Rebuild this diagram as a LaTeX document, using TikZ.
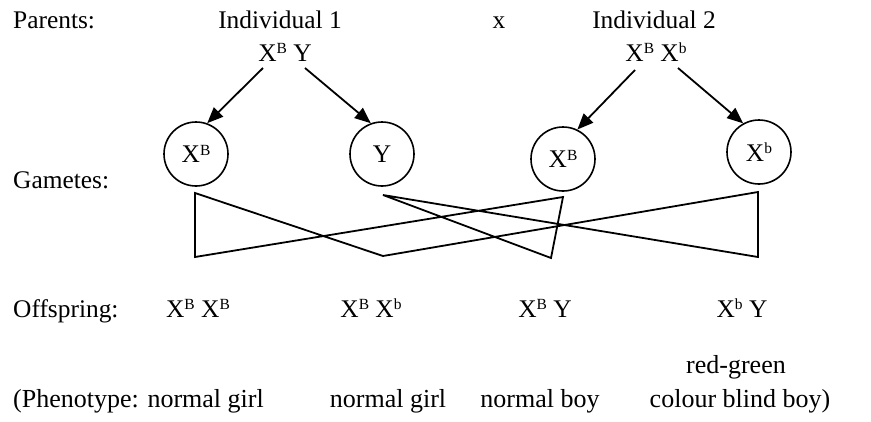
\documentclass[tikz,border=0pt]{standalone}
\usepackage{fontspec}
\setmainfont{Liberation Serif}
\usetikzlibrary{arrows.meta}
\newcommand{\xs}[1]{X\raisebox{0.30em}{\fontsize{15.5}{15.5}\selectfont #1}}
\begin{document}
\begin{tikzpicture}[x=1pt,y=-1pt,
  every node/.style={font=\fontsize{25.4}{30}\selectfont, inner sep=0pt},
  lbl/.style={anchor=base west},
  txt/.style={anchor=base},
  phen/.style={font=\fontsize{26}{30}\selectfont},
  gam/.style={circle, draw, line width=1.6pt, minimum size=64pt},
  arr/.style={line width=1.8pt, -{Triangle[length=16pt,width=13pt]}},
  cross/.style={line width=1.8pt, line join=miter}]
\useasboundingbox (0,0) rectangle (871,421);
% row labels
\node[lbl] (lpar) at (13,28) {Parents:};
\node[lbl] (lgam) at (13,188) {Gametes:};
\node[lbl] (loff) at (13,317) {Offspring:};
% parents
\node[txt] (ind1) at (280,28) {Individual 1};
\node[txt] (times) at (499,28) {x};
\node[txt] (ind2) at (654,28) {Individual 2};
\node[txt] (p1) at (285,61) {\xs{B} Y};
\node[txt] (p2) at (656,61) {\xs{B} \xs{b}};
\coordinate (p1a) at (263,68);
\coordinate (p1b) at (305,68);
\coordinate (p2a) at (635,70);
\coordinate (p2b) at (678,68);
% gametes
\node[gam] (g1) at (196,154) {\xs{B}};
\node[gam] (g2) at (382,154) {Y};
\node[gam] (g3) at (563,159) {\xs{B}};
\node[gam] (g4) at (759,152) {\xs{b}};
\draw[arr] (p1a) -- (g1.70);
\draw[arr] (p1b) -- (g2.110);
\draw[arr] (p2a) -- (g3.64);
\draw[arr] (p2b) -- (g4.119);
% crossing lines
\coordinate (a1) at (195,193);
\coordinate (a2) at (195,257);
\coordinate (b1) at (383,195);
\coordinate (b2) at (383,256);
\coordinate (c1) at (563,197);
\coordinate (c2) at (551,258);
\coordinate (d1) at (758,192);
\coordinate (d2) at (758,257);
\draw[cross] (a1) -- (a2) -- (c1) -- (c2) -- (b1) -- (d2) -- (d1) -- (b2) -- cycle;
% offspring
\node[txt] (o1) at (198,317) {\xs{B} \xs{B}};
\node[txt] (o2) at (371,317) {\xs{B} \xs{b}};
\node[txt] (o3) at (545,317) {\xs{B} Y};
\node[txt] (o4) at (742,317) {\xs{b} Y};
% phenotypes
\node[lbl,phen] (ph1) at (13,407) {(Phenotype: normal girl};
\node[txt,phen] (ph2) at (388,407) {normal girl};
\node[txt,phen] (ph3) at (540,407) {normal boy};
\node[txt,phen] (ph4) at (740,407) {colour blind boy)};
\node[txt,phen] (ph4a) at (736,373) {red-green};
\end{tikzpicture}
\end{document}
